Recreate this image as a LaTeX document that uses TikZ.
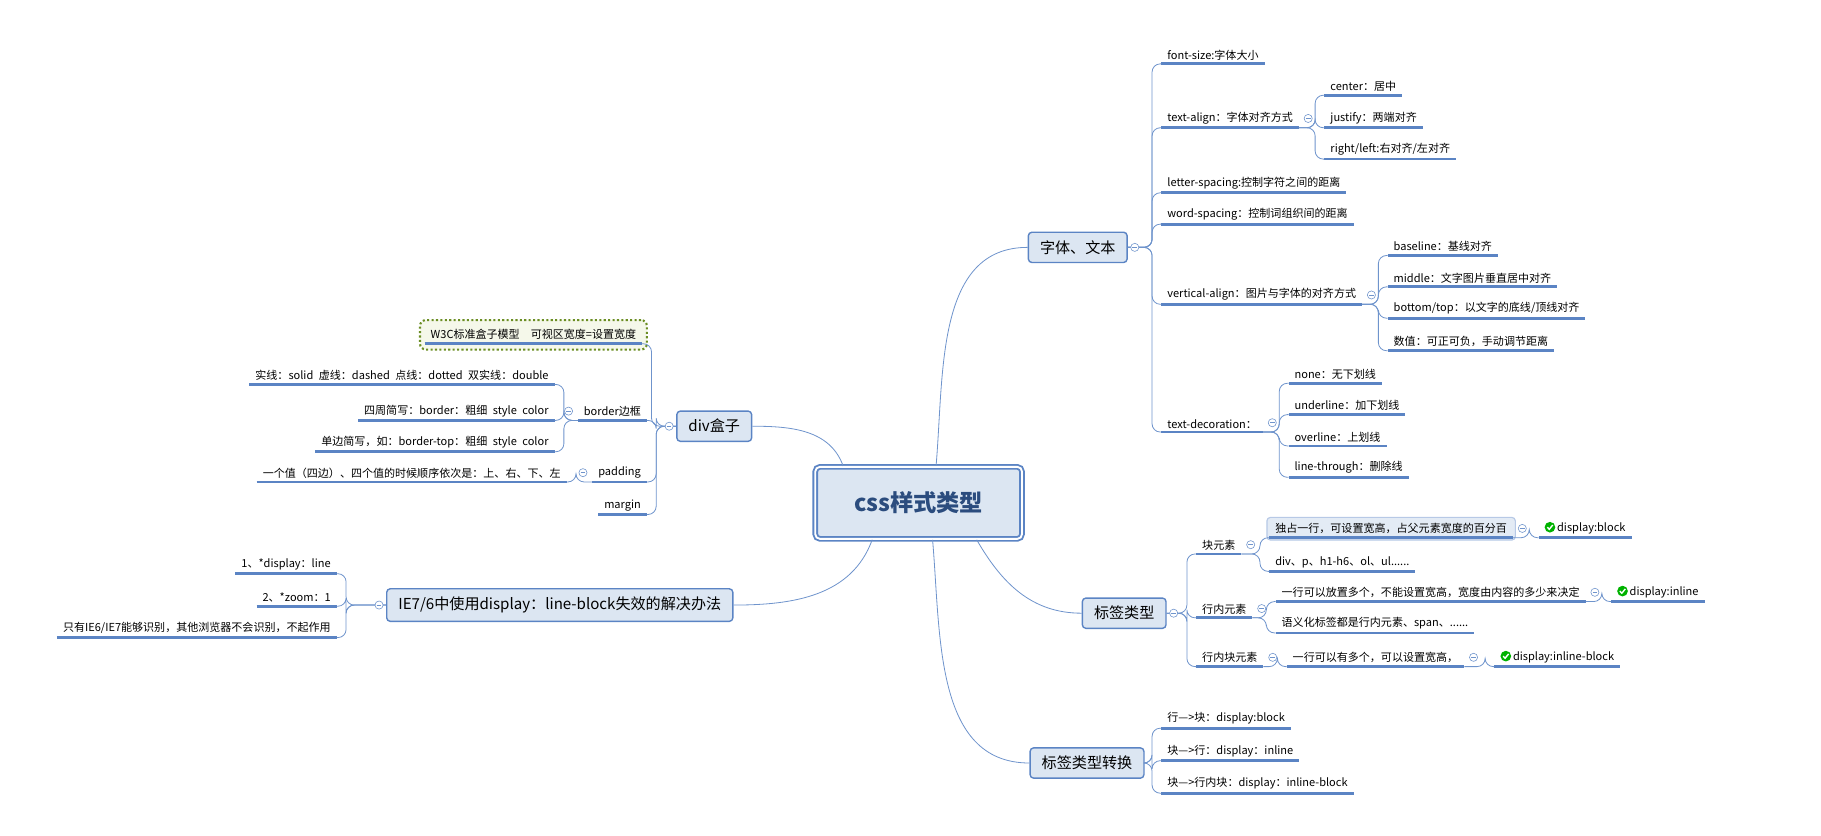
\documentclass[tikz,border=0pt]{standalone}
\usepackage{fontspec}
\setmainfont{Noto Sans CJK SC}
\usetikzlibrary{positioning,fit,backgrounds}
\definecolor{cline}{HTML}{6F94CC}
\definecolor{uline}{HTML}{5B84C4}
\definecolor{tfill}{HTML}{DCE6F2}
\definecolor{rootc}{HTML}{2B4C7E}
\definecolor{w3cc}{HTML}{6B8E23}
\definecolor{w3cfill}{HTML}{F5F8EA}
\tikzset{
  leaf/.style={inner xsep=5pt, inner ysep=3pt, font=\fontsize{9.5}{11}\selectfont,
    append after command={(\tikzlastnode.south west) edge[underl] (\tikzlastnode.south east)}},
  underl/.style={draw=uline, line width=2.4pt},
  topic/.style={draw=uline, fill=tfill, rounded corners=3pt, line width=1.2pt,
    inner xsep=10pt, inner ysep=7pt, font=\fontsize{13}{15}\selectfont},
  branch/.style={draw=cline, line width=0.7pt, rounded corners=7pt},
  coll/.style={circle, draw=cline, fill=white, minimum size=7pt, inner sep=0pt, line width=0.5pt,
    path picture={\draw[cline] ([xshift=-2pt]path picture bounding box.center) -- ([xshift=2pt]path picture bounding box.center);}},
  hlbox/.style={draw=cline!50, fill=tfill!80, rounded corners=3pt, line width=1pt, inner sep=2pt},
}
\newcommand{\rbr}[2]{\draw[branch] (#1) -| ([xshift=-8pt]#2.south west) -- (#2.south west);}
\newcommand{\lbr}[2]{\draw[branch] (#1) -| ([xshift=8pt]#2.south east) -- (#2.south east);}
\newcommand{\chk}{\tikz[baseline=-0.7ex]{\fill[green!70!black] (0,0) circle (4.6pt);
  \draw[white, line width=1.2pt] (-2.3pt,0) -- (-0.6pt,-1.8pt) -- (2.4pt,1.9pt);}\,}
\begin{document}
\begin{tikzpicture}[x=1pt, y=-1pt]
\useasboundingbox (0,0) rectangle (1568,719);
% root and topics
\node[draw=uline, double=white, double distance=1.6pt, line width=1.6pt, fill=tfill,
  rounded corners=4pt, minimum width=178pt, minimum height=62pt, text=rootc,
  font=\fontsize{20}{22}\bfseries] (root) at (791,433) {css样式类型};
\node[topic] (font) at (928,213) {字体、文本};
\node[topic] (tag) at (968,528) {标签类型};
\node[topic] (conv) at (936,657) {标签类型转换};
\node[topic] (div) at (615,367) {div盒子};
\node[topic] (ie) at (482,521) {IE7/6中使用display：line-block失效的解决办法};
\draw[branch] ([xshift=15pt]root.north) to[out=85,in=180] (font.west);
\draw[branch] ([xshift=50pt]root.south) to[out=-60,in=180] (tag.west);
\draw[branch] ([xshift=12pt]root.south) to[out=-85,in=180] (conv.west);
\draw[branch] (div.east) to[out=0,in=110] ([xshift=-65pt]root.north);
\draw[branch] (ie.east) to[out=0,in=-110] ([xshift=-40pt]root.south);

% 字体、文本
\node[leaf, anchor=south west] (fsize) at (1000,55) {font-size:字体大小};
\node[leaf, anchor=south west] (talign) at (1000,110) {text-align：字体对齐方式};
\node[leaf, anchor=south west] (lspace) at (1000,166) {letter-spacing:控制字符之间的距离};
\node[leaf, anchor=south west] (wspace) at (1000,193) {word-spacing：控制词组织间的距离};
\node[leaf, anchor=south west] (valign) at (1000,262) {vertical-align：图片与字体的对齐方式};
\node[leaf, anchor=south west] (tdeco) at (1000,372) {text-decoration：};
\foreach \n in {fsize,talign,lspace,wspace,valign,tdeco} {\rbr{font.east}{\n}}
\node[leaf, anchor=south west] (tcenter) at ([shift={(22,-28)}]talign.south east) {center：居中};
\node[leaf, anchor=south west] (tjust) at ([shift={(22,0)}]talign.south east) {justify：两端对齐};
\node[leaf, anchor=south west] (tright) at ([shift={(22,27)}]talign.south east) {right/left:右对齐/左对齐};
\foreach \n in {tcenter,tjust,tright} {\rbr{talign.south east}{\n}}
\node[leaf, anchor=south west] (vbase) at ([shift={(22,-42)}]valign.south east) {baseline：基线对齐};
\node[leaf, anchor=south west] (vmid) at ([shift={(22,-15)}]valign.south east) {middle：文字图片垂直居中对齐};
\node[leaf, anchor=south west] (vbot) at ([shift={(22,12)}]valign.south east) {bottom/top：以文字的底线/顶线对齐};
\node[leaf, anchor=south west] (vnum) at ([shift={(22,40)}]valign.south east) {数值：可正可负，手动调节距离};
\foreach \n in {vbase,vmid,vbot,vnum} {\rbr{valign.south east}{\n}}
\node[leaf, anchor=south west] (dnone) at ([shift={(22,-42)}]tdeco.south east) {none：无下划线};
\node[leaf, anchor=south west] (dunder) at ([shift={(22,-15)}]tdeco.south east) {underline：加下划线};
\node[leaf, anchor=south west] (dover) at ([shift={(22,12)}]tdeco.south east) {overline：上划线};
\node[leaf, anchor=south west] (dline) at ([shift={(22,39)}]tdeco.south east) {line-through：删除线};
\foreach \n in {dnone,dunder,dover,dline} {\rbr{tdeco.south east}{\n}}

% 标签类型
\node[leaf, anchor=south west] (blk) at (1030,477) {块元素};
\node[leaf, anchor=south west] (inl) at (1030,532) {行内元素};
\node[leaf, anchor=south west] (ib) at (1030,574) {行内块元素};
\foreach \n in {blk,inl,ib} {\rbr{tag.east}{\n}}
\node[leaf, anchor=south west] (blk1) at ([shift={(24,-14)}]blk.south east) {独占一行，可设置宽高，占父元素宽度的百分百};
\begin{scope}[on background layer]
\node[hlbox, fit=(blk1)] {};
\end{scope}
\node[leaf, anchor=south west] (blk2) at ([shift={(24,15)}]blk.south east) {div、p、h1-h6、ol、ul......};
\foreach \n in {blk1,blk2} {\rbr{blk.south east}{\n}}
\node[leaf, anchor=south west] (blk1d) at ([shift={(22,0)}]blk1.south east) {\chk display:block};
\rbr{blk1.south east}{blk1d}
\node[leaf, anchor=south west] (inl1) at ([shift={(20,-14)}]inl.south east) {一行可以放置多个，不能设置宽高，宽度由内容的多少来决定};
\node[leaf, anchor=south west] (inl2) at ([shift={(20,13)}]inl.south east) {语义化标签都是行内元素、span、......};
\foreach \n in {inl1,inl2} {\rbr{inl.south east}{\n}}
\node[leaf, anchor=south west] (inl1d) at ([shift={(22,0)}]inl1.south east) {\chk display:inline};
\rbr{inl1.south east}{inl1d}
\node[leaf, anchor=south west] (ib1) at ([shift={(20,0)}]ib.south east) {一行可以有多个，可以设置宽高，};
\rbr{ib.south east}{ib1}
\node[leaf, anchor=south west] (ib1d) at ([shift={(26,0)}]ib1.south east) {\chk display:inline-block};
\rbr{ib1.south east}{ib1d}

% 标签类型转换
\node[leaf, anchor=south west] (cv1) at (1000,627) {行---{}>块：display:block};
\node[leaf, anchor=south west] (cv2) at (1000,655) {块---{}>行：display：inline};
\node[leaf, anchor=south west] (cv3) at (1000,683) {块---{}>行内块：display：inline-block};
\foreach \n in {cv1,cv2,cv3} {\rbr{conv.east}{\n}}

% div盒子
\node[leaf, anchor=south east] (w3c) at (553,296) {W3C标准盒子模型\quad 可视区宽度=设置宽度};
\begin{scope}[on background layer]
\node[draw=w3cc, fill=w3cfill, dotted, line width=1.8pt, rounded corners=5pt,
  inner xsep=4pt, inner ysep=5pt, fit=(w3c)] {};
\end{scope}
\node[leaf, anchor=south east] (border) at (557,362) {border边框};
\node[leaf, anchor=south east] (pad) at (557,415) {padding};
\node[leaf, anchor=south east] (margin) at (557,443) {margin};
\foreach \n in {w3c,border,pad,margin} {\lbr{div.west}{\n}}
\node[leaf, anchor=south east] (bd1) at ([shift={(-20,-31)}]border.south west) {实线：solid\enspace 虚线：dashed\enspace 点线：dotted\enspace 双实线：double};
\node[leaf, anchor=south east] (bd2) at ([shift={(-20,0)}]border.south west) {四周简写：border：粗细\enspace style\enspace color};
\node[leaf, anchor=south east] (bd3) at ([shift={(-20,27)}]border.south west) {单边简写，如：border-top：粗细\enspace style\enspace color};
\foreach \n in {bd1,bd2,bd3} {\lbr{border.south west}{\n}}
\node[leaf, anchor=south east] (pad1) at ([shift={(-22,0)}]pad.south west) {一个值（四边）、四个值的时候顺序依次是：上、右、下、左};
\lbr{pad.south west}{pad1}

% IE7/6
\node[leaf, anchor=south east] (ie1) at (290,494) {1、*display：line};
\node[leaf, anchor=south east] (ie2) at (290,522) {2、*zoom：1};
\node[leaf, anchor=south east] (ie3) at (290,549) {只有IE6/IE7能够识别，其他浏览器不会识别，不起作用};
\foreach \n in {ie1,ie2,ie3} {\lbr{ie.west}{\n}}

% collapse marks
\foreach \n in {font,tag} {\node[coll] at ([xshift=6pt]\n.east) {};}
\foreach \n in {div,ie} {\node[coll] at ([xshift=-6pt]\n.west) {};}
\foreach \n in {talign,valign,tdeco,blk,inl,ib,blk1,inl1,ib1} {\node[coll] at ([shift={(8,-8)}]\n.south east) {};}
\foreach \n in {border,pad} {\node[coll] at ([shift={(-8,-8)}]\n.south west) {};}
\end{tikzpicture}
\end{document}
